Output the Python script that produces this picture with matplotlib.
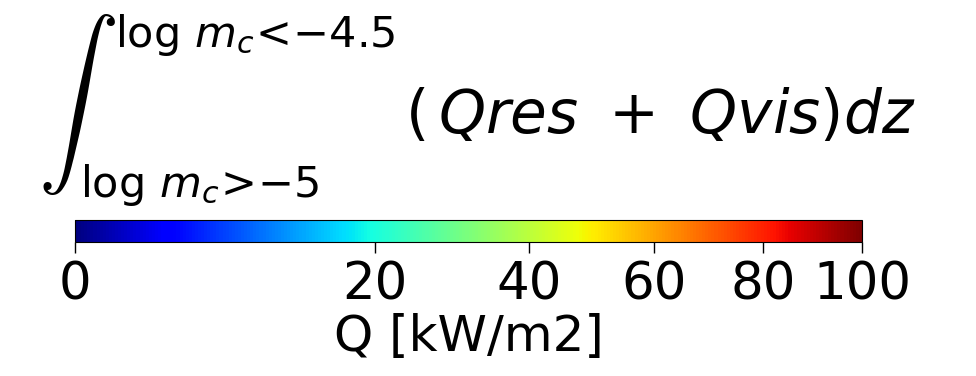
import numpy as np
import matplotlib
matplotlib.use('Agg')
import matplotlib.pyplot as plt
from matplotlib import colors, cm

plt.rcParams['mathtext.fontset'] = 'dejavusans'

q_min, q_max = 0, 100
q_gamma = 0.6
q_ticks = [0, 20, 40, 60, 80, 100]
q_label = 'Q [kW/m2]'
upper_lim = r'$\log\, m_c\!<\!{-4.5}$'
lower_lim = r'$\log\, m_c\!>\!{-5}$'
integrand = r'$(\,Qres\ +\ Qvis)dz$'

W, H = 976, 376
fig = plt.figure(figsize=(W / 100, H / 100), dpi=100)
cax = fig.add_axes([75 / W, 1 - 242 / H, 787 / W, 22 / H])

norm = colors.PowerNorm(gamma=q_gamma, vmin=q_min, vmax=q_max)
sm = cm.ScalarMappable(norm=norm, cmap='jet')
cb = fig.colorbar(sm, cax=cax, orientation='horizontal', ticks=q_ticks)
cb.ax.tick_params(labelsize=37, length=8, width=1, pad=5)
cb.set_label(q_label, fontsize=36, labelpad=2)

# integral sign, limits and integrand drawn as separate pieces
fig.text(38 / W, 1 - 197 / H, r'$\int$', fontsize=58,
         math_fontfamily='cm', ha='left', va='bottom')
fig.text(115 / W, 1 - 47 / H, upper_lim, fontsize=31, ha='left',
         va='baseline')
fig.text(80 / W, 1 - 197 / H, lower_lim, fontsize=31, ha='left',
         va='baseline')
fig.text(405 / W, 1 - 133 / H, integrand, fontsize=43, ha='left',
         va='baseline')

plt.savefig('out.png', dpi=100)
